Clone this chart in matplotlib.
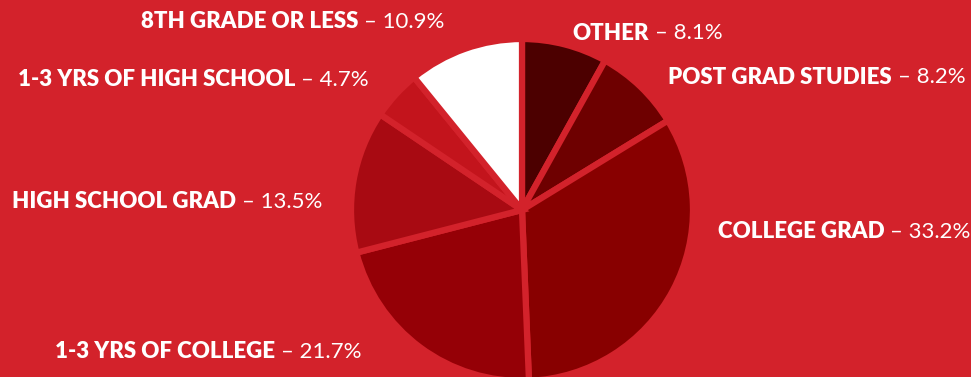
import matplotlib
matplotlib.use("Agg")
import matplotlib.pyplot as plt

labels = ["OTHER", "POST GRAD STUDIES", "COLLEGE GRAD", "1-3 YRS OF COLLEGE",
          "HIGH SCHOOL GRAD", "1-3 YRS OF HIGH SCHOOL", "8TH GRADE OR LESS"]
values = [8.1, 8.2, 33.2, 21.7, 13.5, 4.7, 10.9]
pct_text = ["8.1%", "8.2%", "33.2%", "21.7%", "13.5%", "4.7%", "10.9%"]
colors = ["#4c0000", "#6e0000", "#880000", "#950006", "#a80a12", "#c3141c", "#ffffff"]
# label spans in pixels (left x, right x, center y from top)
label_pos = [(577, 718, 33), (668, 965, 77), (720, 968, 232), (54, 362, 352),
             (12, 323, 202), (14, 372, 80), (140, 445, 22)]

bg = "#d3222b"
W, H = 971, 377
fig = plt.figure(figsize=(W / 100, H / 100), dpi=100, facecolor=bg)

cx, cy, r = 522, 210, 171
ax = fig.add_axes([(cx - r) / W, (H - cy - r) / H, 2 * r / W, 2 * r / H])
ax.set_facecolor(bg)
ax.pie(values, colors=colors, startangle=90, counterclock=False,
       wedgeprops=dict(edgecolor=bg, linewidth=4.5, joinstyle="miter"))
ax.set_xlim(-1.0, 1.0)
ax.set_ylim(-1.0, 1.0)
ax.set_aspect("equal")
ax.axis("off")

fig.canvas.draw()
renderer = fig.canvas.get_renderer()
fs = 16
gap = 6
for lab, pct, (x0, x1, y) in zip(labels, pct_text, label_pos):
    yf = 1 - y / H
    t1 = fig.text(0, yf, lab, color="white", fontsize=fs,
                  fontfamily="Lato", fontweight="heavy", va="center", ha="left")
    t2 = fig.text(0, yf, "\u2013 " + pct, color="white", fontsize=fs,
                  fontfamily="Lato", fontweight=400, va="center", ha="left")
    w1 = t1.get_window_extent(renderer=renderer).width
    w2 = t2.get_window_extent(renderer=renderer).width
    total = w1 + gap + w2
    start = (x0 + x1) / 2 - total / 2
    t1.set_x(start / W)
    t2.set_x((start + w1 + gap) / W)

fig.savefig("out.png", dpi=100, facecolor=bg)
